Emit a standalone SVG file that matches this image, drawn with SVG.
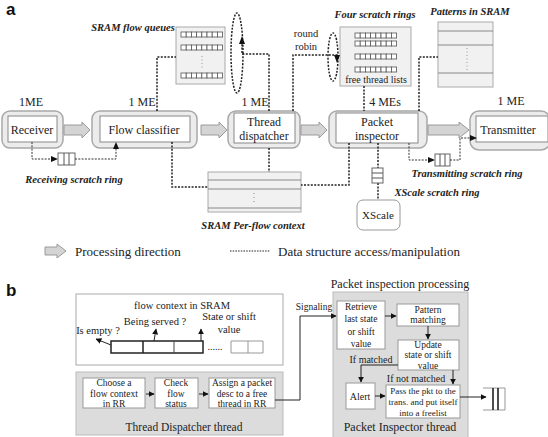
<svg xmlns="http://www.w3.org/2000/svg" width="548" height="437" viewBox="0 0 548 437">
<style>
.t{font-family:"Liberation Serif","Times New Roman",serif;fill:#222}
.bi{font-family:"Liberation Serif","Times New Roman",serif;font-weight:bold;font-style:italic;font-size:10.5px;fill:#222}
.lt{font-family:"Liberation Sans",Arial,sans-serif;font-weight:bold;font-size:17px;fill:#111}
.outer{fill:#ececec;stroke:#a8a8a8;stroke-width:1.5}
.inner{fill:#fff;stroke:#888;stroke-width:1}
.dot{fill:none;stroke:#222;stroke-width:1.5;stroke-dasharray:2 1.4}
.pa{fill:#d4d4d4;stroke:#9a9a9a;stroke-width:1}
.mem{fill:#f1f1f1;stroke:#aaa;stroke-width:1}
.ln{fill:none;stroke:#888;stroke-width:1}
.bx{fill:#fff;stroke:#999;stroke-width:1}
.gbox{fill:#dcdcdc;stroke:#bbb;stroke-width:1}
.ar{fill:none;stroke:#222;stroke-width:1}
.q{fill:#fff;stroke:#555;stroke-width:0.8}
</style>
<defs>
<marker id="ah" viewBox="0 0 10 10" refX="9" refY="5" markerWidth="6" markerHeight="6" orient="auto" markerUnits="userSpaceOnUse"><path d="M0,0 L10,5 L0,10 z" fill="#111"/></marker>
<g id="qrow">
<rect x="0" y="0" width="5.2" height="5" class="q"/><rect x="5.2" y="0" width="5.2" height="5" class="q"/><rect x="10.4" y="0" width="5.2" height="5" class="q"/><rect x="15.6" y="0" width="5.2" height="5" class="q"/><rect x="20.8" y="0" width="5.2" height="5" class="q"/><rect x="26" y="0" width="5.2" height="5" class="q"/><rect x="31.2" y="0" width="5.2" height="5" class="q"/><rect x="36.4" y="0" width="5.2" height="5" class="q"/>
</g>
<path id="parrow" d="M0,-5 L18,-5 L18,-8 L26,0 L18,8 L18,5 L0,5 z"/>
</defs>

<text class="lt" x="6" y="15">a</text>
<text class="lt" x="6" y="296">b</text>

<!-- ===== Part a nodes ===== -->
<g id="receiver">
<rect class="outer" x="2" y="111" width="61" height="37" rx="8"/>
<rect class="inner" x="8" y="116" width="49" height="26"/>
<text class="t" x="32" y="134" font-size="12" text-anchor="middle">Receiver</text>
<text class="t" x="31" y="106" font-size="12" text-anchor="middle">1ME</text>
</g>
<g id="flowclassifier">
<rect class="outer" x="92" y="111" width="105" height="37" rx="8"/>
<rect class="inner" x="100" y="116" width="90" height="26"/>
<text class="t" x="144" y="134" font-size="12" text-anchor="middle">Flow classifier</text>
<text class="t" x="142" y="106" font-size="12" text-anchor="middle">1 ME</text>
</g>
<g id="dispatcher">
<rect class="outer" x="228" y="111" width="72" height="37" rx="8"/>
<rect class="inner" x="234" y="113" width="61" height="30"/>
<text class="t" x="264" y="126" font-size="12" text-anchor="middle">Thread</text>
<text class="t" x="264" y="140" font-size="12" text-anchor="middle">dispatcher</text>
<text class="t" x="255" y="106" font-size="12" text-anchor="middle">1 ME</text>
</g>
<g id="inspector">
<rect class="outer" x="329" y="111" width="98" height="37" rx="8"/>
<rect class="inner" x="336" y="113" width="82" height="30"/>
<text class="t" x="377" y="126" font-size="12" text-anchor="middle">Packet</text>
<text class="t" x="377" y="140" font-size="12" text-anchor="middle">inspector</text>
<text class="t" x="385" y="106" font-size="12" text-anchor="middle">4 MEs</text>
</g>
<g id="transmitter">
<rect class="outer" x="470" y="111" width="80" height="39" rx="9"/>
<rect class="inner" x="476" y="116" width="72" height="26"/>
<text class="t" x="508" y="134" font-size="12" text-anchor="middle">Transmitter</text>
<text class="t" x="511" y="105" font-size="12" text-anchor="middle">1 ME</text>
</g>

<g id="sramqueues">
<text class="bi" x="133" y="31" text-anchor="middle">SRAM flow queues</text>
<rect class="mem" x="176" y="27" width="49" height="57"/>
<use href="#qrow" x="181" y="32"/>
<use href="#qrow" x="181" y="45"/>
<use href="#qrow" x="181" y="73"/>
<path d="M202,56 V70" stroke="#999" stroke-width="1" stroke-dasharray="1 2.5" fill="none"/>
</g>

<g id="scratchrings">
<text class="bi" x="375" y="18" text-anchor="middle">Four scratch rings</text>
<rect class="mem" x="340" y="27" width="71" height="59"/>
<use href="#qrow" x="355" y="33"/>
<use href="#qrow" x="355" y="41"/>
<use href="#qrow" x="355" y="54"/>
<use href="#qrow" x="355" y="67"/>
<text class="t" x="376" y="83" font-size="10" text-anchor="middle">free thread lists</text>
</g>

<g id="patterns">
<text class="bi" x="470" y="15" text-anchor="middle">Patterns  in SRAM</text>
<rect class="mem" x="438" y="22" width="55" height="65"/>
<path class="ln" d="M438,31 H493 M438,45 H493 M438,73 H493"/>
<path d="M467,48 V70" stroke="#999" stroke-width="1" stroke-dasharray="1 2.5" fill="none"/>
</g>

<g id="perflow">
<rect class="mem" x="208" y="172" width="93" height="40"/>
<path class="ln" d="M208,180 H301 M208,189 H301 M208,208 H301"/>
<path d="M254,193 V205" stroke="#888" stroke-width="1" stroke-dasharray="1 3" fill="none"/>
<text class="bi" x="253" y="229" text-anchor="middle">SRAM Per-flow context</text>
</g>

<g id="xscale">
<rect fill="#fff" stroke="#999" stroke-width="1" x="357" y="200" width="43" height="30" rx="6"/>
<text class="t" x="378" y="219" font-size="11" text-anchor="middle">XScale</text>
<text class="bi" x="437" y="196" text-anchor="middle">XScale scratch ring</text>
</g>

<!-- ===== Part a connectors ===== -->
<g id="connectors-a">
<use href="#parrow" x="64" y="130" class="pa"/>
<use href="#parrow" x="201" y="130" class="pa"/>
<use href="#parrow" x="301" y="130" class="pa"/>
<path class="pa" d="M428,125 L459,125 L459,122 L469,130 L459,138 L459,135 L428,135 z"/>

<path class="dot" d="M157,111 V57 H176"/>
<ellipse class="dot" cx="237" cy="53" rx="6" ry="40"/>
<path class="dot" d="M269,111 V54 H242 V42"/>
<path d="M242,36 L239,44 L245,44 z" fill="#111"/>

<text class="t" x="306" y="37" font-size="10.5" text-anchor="middle">round</text>
<text class="t" x="306" y="50" font-size="10.5" text-anchor="middle">robin</text>
<ellipse class="dot" cx="333" cy="57" rx="5" ry="24"/>
<path class="dot" d="M293,111 V55 H337 V56"/>
<path d="M337,63 L334,55 L340,55 z" fill="#111"/>

<path class="dot" d="M364,86 V111"/>
<path class="dot" d="M419,111 V57 H438"/>

<!-- receiving scratch ring -->
<path d="M32,142 V159 H55" fill="none" stroke="#333" stroke-width="1" stroke-dasharray="2 1.3"/>
<path d="M58,159 L51,156 L51,162 z" fill="#111"/>
<g>
<rect x="58" y="153" width="17" height="12" fill="#fff" stroke="#666" stroke-width="1"/>
<path d="M64,153 V165 M69,153 V165" stroke="#555" stroke-width="1"/>
</g>
<path d="M75,159 H116 V146" fill="none" stroke="#333" stroke-width="1" stroke-dasharray="2 1.3"/>
<path d="M116,142 L113,149 L119,149 z" fill="#111"/>
<text class="bi" x="74" y="183" text-anchor="middle">Receiving scratch ring</text>

<path class="dot" d="M172,142 V187 H208"/>
<path class="dot" d="M269,148 V172"/>
<path class="dot" d="M349,143 V185 H301"/>

<!-- XScale scratch ring -->
<path class="dot" d="M378,143 V168 M378,183 V200"/>
<g>
<rect x="372" y="168" width="11" height="15" fill="#fff" stroke="#666" stroke-width="1"/>
<path d="M372,173 H383 M372,178 H383" stroke="#555" stroke-width="1"/>
</g>

<!-- transmitting scratch ring -->
<path d="M409,143 V160 H431" fill="none" stroke="#333" stroke-width="1" stroke-dasharray="2 1.3"/>
<path d="M435,160 L428,157 L428,163 z" fill="#111"/>
<g>
<rect x="435" y="154" width="15" height="12" fill="#fff" stroke="#666" stroke-width="1"/>
<path d="M440,154 V166 M445,154 V166" stroke="#555" stroke-width="1"/>
</g>
<path d="M450,160 H460 V138 H472" fill="none" stroke="#333" stroke-width="1" stroke-dasharray="2 1.3"/>
<path d="M477,138 L470,135 L470,141 z" fill="#111"/>
<text class="bi" x="467" y="177" text-anchor="middle">Transmitting scratch ring</text>
</g>

<!-- legend -->
<g id="legend">
<path class="pa" d="M45,247 L57,247 L57,244 L66,251 L57,258 L57,255 L45,255 z"/>
<text class="t" x="75" y="256" font-size="13">Processing direction</text>
<path d="M230,251 H270" stroke="#222" stroke-width="1.2" stroke-dasharray="1.5 1.2"/>
<text class="t" x="278" y="256" font-size="13">Data structure access/manipulation</text>
</g>

<!-- ===== Part b ===== -->
<g id="flowcontext">
<rect x="76" y="294" width="207" height="71" fill="#fff" stroke="#aaa" stroke-width="1"/>
<text class="t" x="182" y="309" font-size="10.5" text-anchor="middle">flow context in SRAM</text>
<text class="t" x="155" y="325" font-size="10.5" text-anchor="middle">Being served ?</text>
<text class="t" x="229" y="320" font-size="10.5" text-anchor="middle">State or shift</text>
<text class="t" x="229" y="333" font-size="10.5" text-anchor="middle">value</text>
<text class="t" x="98" y="334" font-size="10.5" text-anchor="middle">Is empty  ?</text>
<rect x="111" y="341" width="92" height="12" fill="#fff" stroke="#222" stroke-width="1.5"/>
<path d="M143,341 V353" stroke="#222" stroke-width="1.5"/>
<path d="M174,341 V353" stroke="#444" stroke-width="1"/>
<text class="t" x="215" y="350" font-size="10" text-anchor="middle">......</text>
<path d="M231,341 H263 V353 H231 z M248,341 V353" fill="none" stroke="#999" stroke-width="1"/>
<path class="ar" d="M111,345 L96,339" marker-end="url(#ah)"/>
<path class="ar" d="M154,341 L156,329" marker-end="url(#ah)"/>
<path class="ar" d="M201,341 L201,329" marker-end="url(#ah)"/>
</g>

<g id="dispatcherthread">
<rect class="gbox" x="76" y="372" width="207" height="63"/>
<rect class="bx" x="83" y="378" width="62" height="30"/>
<text class="t" x="114" y="386" font-size="9.5" text-anchor="middle">Choose  a</text>
<text class="t" x="114" y="397" font-size="9.5" text-anchor="middle">flow context</text>
<text class="t" x="114" y="407" font-size="9.5" text-anchor="middle">in RR</text>
<rect class="bx" x="155" y="378" width="43" height="30"/>
<text class="t" x="176" y="386" font-size="9.5" text-anchor="middle">Check</text>
<text class="t" x="176" y="397" font-size="9.5" text-anchor="middle">flow</text>
<text class="t" x="176" y="407" font-size="9.5" text-anchor="middle">status</text>
<rect class="bx" x="209" y="378" width="66" height="30"/>
<text class="t" x="242" y="386" font-size="9.5" text-anchor="middle">Assign a packet</text>
<text class="t" x="242" y="397" font-size="9.5" text-anchor="middle">desc to a free</text>
<text class="t" x="242" y="407" font-size="9.5" text-anchor="middle">thread in RR</text>
<text class="t" x="184" y="431" font-size="11.5" text-anchor="middle">Thread Dispatcher thread</text>
</g>

<g id="inspectorthread">
<text class="t" x="400" y="288" font-size="12" text-anchor="middle">Packet inspection processing</text>
<rect class="gbox" x="333" y="292" width="135" height="146"/>
<rect class="bx" x="337" y="301" width="48" height="48"/>
<text class="t" x="361" y="310" font-size="9.5" text-anchor="middle">Retrieve</text>
<text class="t" x="361" y="322" font-size="9.5" text-anchor="middle">last state</text>
<text class="t" x="361" y="335" font-size="9.5" text-anchor="middle">or shift</text>
<text class="t" x="361" y="347" font-size="9.5" text-anchor="middle">value</text>
<rect class="bx" x="397" y="304" width="62" height="22"/>
<text class="t" x="428" y="313" font-size="9.5" text-anchor="middle">Pattern</text>
<text class="t" x="428" y="323" font-size="9.5" text-anchor="middle">matching</text>
<rect class="bx" x="398" y="340" width="61" height="30"/>
<text class="t" x="428" y="348" font-size="9.5" text-anchor="middle">Update</text>
<text class="t" x="428" y="358" font-size="9.5" text-anchor="middle">state or shift</text>
<text class="t" x="428" y="369" font-size="9.5" text-anchor="middle">value</text>
<text class="t" x="371" y="363" font-size="10" text-anchor="middle">If matched</text>
<rect class="bx" x="346" y="383" width="29" height="26"/>
<text class="t" x="360" y="400" font-size="10" text-anchor="middle">Alert</text>
<text class="t" x="416" y="382" font-size="10" text-anchor="middle">If not matched</text>
<rect class="bx" x="386" y="385" width="74" height="33"/>
<text class="t" x="423" y="394" font-size="9" text-anchor="middle">Pass the pkt to the</text>
<text class="t" x="423" y="405" font-size="9" text-anchor="middle">trans. and put itself</text>
<text class="t" x="423" y="416" font-size="9" text-anchor="middle">into a freelist</text>
<text class="t" x="400" y="431" font-size="12" text-anchor="middle">Packet Inspector thread</text>
</g>

<g id="outqueue">
<path d="M483,388 H505 M483,410 H505 M505,388 V410" fill="none" stroke="#999" stroke-width="1"/>
<path d="M493,388 V410 M498,388 V410" stroke="#222" stroke-width="1.6"/>
</g>

<g id="connectors-b">
<path class="ar" d="M146,394 H154" marker-end="url(#ah)"/>
<path class="ar" d="M199,394 H208" marker-end="url(#ah)"/>
<path class="ar" d="M275,400 H300 V316 H336" marker-end="url(#ah)"/>
<text class="t" x="314" y="310" font-size="9.5" text-anchor="middle">Signaling</text>
<path class="ar" d="M385,316 H396" marker-end="url(#ah)"/>
<path class="ar" d="M428,326 V339" marker-end="url(#ah)"/>
<path class="ar" d="M398,365 H361 V382" marker-end="url(#ah)"/>
<path class="ar" d="M453,370 V384" marker-end="url(#ah)"/>
<path class="ar" d="M375,396 H385" marker-end="url(#ah)"/>
<path class="ar" d="M460,397 H486" marker-end="url(#ah)"/>
</g>
</svg>
